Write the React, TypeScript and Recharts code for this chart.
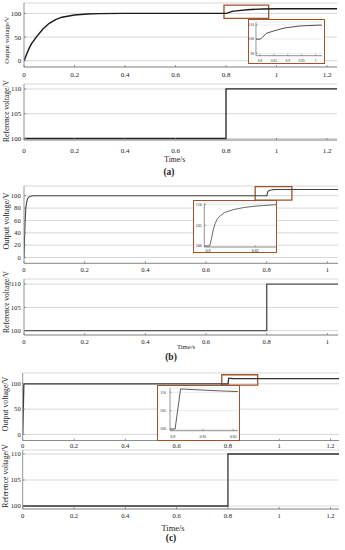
import React from 'react'
import { CartesianGrid, Line, LineChart, ReferenceArea, XAxis, YAxis } from 'recharts'

const SERIF = '"Liberation Serif", "Times New Roman", serif'
const BROWN = '#a0522d'
const INK = '#222'
const AXIS = '#7a7a7a'
const GRID = '#cdcdcd'

// (a) output voltage, slow first-order rise then slow step to 110
const timeA = [0, 0.01, 0.02, 0.03, 0.05, 0.075, 0.1, 0.125, 0.15, 0.2, 0.25, 0.3, 0.4, 0.8, 0.805, 0.824, 0.85, 0.884, 0.9, 0.944, 1.0, 1.05, 1.1, 1.24]
const voltA = [0, 13, 26, 36, 51, 67, 79, 87, 92, 96.5, 98.8, 99.6, 100, 100, 100.6, 104.2, 105.8, 107.7, 108.2, 109.3, 109.8, 110, 110, 110]

// (b) output voltage, fast rise
const timeB = [0, 0.002, 0.004, 0.006, 0.009, 0.012, 0.016, 0.02, 0.025, 0.032, 0.8, 0.8007, 0.8015, 0.8022, 0.803, 0.804, 0.805, 0.807, 0.8107, 0.815, 0.8192, 0.8235, 0.8287, 0.9, 1.035]
const voltB = [0, 35, 62, 80, 90, 95.5, 97.8, 98.9, 99.6, 100, 100, 100, 101.8, 103.9, 105.4, 106.6, 107.2, 108.1, 108.8, 109.3, 109.6, 109.8, 110, 110, 110]

// (c) output voltage, near-instant rise with small overshoot at the step
const timeC = [0, 0.0045, 0.8, 0.8008, 0.8026, 0.805, 0.81, 0.815, 0.8215, 0.85, 1.233]
const voltC = [0, 100, 100, 100, 110.9, 110.8, 110.6, 110.4, 110.2, 110.1, 110]

// reference voltage step
const refTimeA = [0, 0.8, 0.8, 1.24]
const refTimeB = [0, 0.8, 0.8, 1.035]
const refTimeC = [0, 0.8, 0.8, 1.233]
const refVolt = [100, 100, 110, 110]

const ticksX12 = [0, 0.2, 0.4, 0.6, 0.8, 1, 1.2]
const ticksX10 = [0, 0.2, 0.4, 0.6, 0.8, 1]
const ticksOut50 = [0, 50, 100]
const ticksOut20 = [0, 20, 40, 60, 80, 100]
const ticksRef = [100, 105, 110]
const insetAX = [0.8, 0.85, 0.9, 0.95, 1]
const insetAY = [90, 100, 110]
const insetBX = [0.8, 0.82]
const insetCX = [0.8, 0.81, 0.82]
const insetY = [100, 105, 110]

type Row = { t: number; v: number }
const rows = (ts: number[], vs: number[]): Row[] => ts.map((t, i) => ({ t, v: vs[i] }))

const dataA = rows(timeA, voltA)
const dataB = rows(timeB, voltB)
const dataC = rows(timeC, voltC)
const refA = rows(refTimeA, refVolt)
const refB = rows(refTimeB, refVolt)
const refC = rows(refTimeC, refVolt)

type Box = { left: number; right: number; top: number; bottom: number }

interface PlotProps {
  data: Row[]
  box: Box
  xDomain: [number, number]
  yDomain: [number, number]
  xTicks: number[]
  yTicks: number[]
  font: number
  xGap: number
  yGap: number
  width?: number
  color?: string
  zoom?: { x1: number; x2: number; y1: number; y2: number }
  gridColor?: string
  tickLen?: number
}

const PAD = 4
const AXIS_H = 16

function Plot(p: PlotProps) {
  const { box } = p
  const W = box.right + 4
  const H = box.bottom - box.top + PAD + AXIS_H
  const axisY = box.bottom - box.top + PAD
  const tl = p.tickLen ?? 2
  return (
    <div style={{ position: 'absolute', left: 0, top: box.top - PAD }}>
      <LineChart width={W} height={H} data={p.data} margin={{ top: PAD, right: 4, bottom: 0, left: 0 }}>
        <CartesianGrid vertical={false} stroke={p.gridColor ?? GRID} strokeWidth={0.8} />
        <XAxis
          dataKey="t"
          type="number"
          domain={p.xDomain}
          ticks={p.xTicks}
          interval={0}
          allowDataOverflow
          height={AXIS_H}
          stroke={AXIS}
          strokeWidth={0.8}
          tickLine={false}
          tick={(tp: any) => (
            <g key={tp.index}>
              <line x1={tp.x} x2={tp.x} y1={axisY} y2={axisY - tl} stroke={AXIS} strokeWidth={0.8} />
              <text x={tp.x} y={axisY + p.xGap + p.font * 0.35} textAnchor="middle" fontSize={p.font} fontFamily={SERIF} fill={INK}>
                {String(tp.payload.value)}
              </text>
            </g>
          )}
        />
        <YAxis
          type="number"
          domain={p.yDomain}
          ticks={p.yTicks}
          interval={0}
          allowDataOverflow
          width={box.left}
          stroke={AXIS}
          strokeWidth={0.8}
          tickLine={false}
          tick={(tp: any) => (
            <g key={tp.index}>
              <line x1={box.left} x2={box.left + tl} y1={tp.y} y2={tp.y} stroke={AXIS} strokeWidth={0.8} />
              <text x={box.left - p.yGap} y={tp.y + p.font * 0.35} textAnchor="end" fontSize={p.font} fontFamily={SERIF} fill={INK}>
                {String(tp.payload.value)}
              </text>
            </g>
          )}
        />
        {p.zoom && (
          <ReferenceArea
            x1={p.zoom.x1}
            x2={p.zoom.x2}
            y1={p.zoom.y1}
            y2={p.zoom.y2}
            fill="none"
            fillOpacity={0}
            stroke={BROWN}
            strokeWidth={1.3}
            ifOverflow="visible"
          />
        )}
        <Line
          dataKey="v"
          type="linear"
          stroke={p.color ?? INK}
          strokeWidth={p.width ?? 1.2}
          dot={false}
          isAnimationActive={false}
        />
      </LineChart>
    </div>
  )
}

function Frame({ box }: { box: Box }) {
  return (
    <div
      style={{
        position: 'absolute',
        left: box.left,
        top: box.top,
        width: box.right - box.left,
        height: box.bottom - box.top,
        border: `1.3px solid ${BROWN}`,
        background: '#fff',
        boxSizing: 'border-box',
      }}
    />
  )
}

function VLabel({ x, y, text, fs }: { x: number; y: number; text: string; fs: number }) {
  return (
    <div
      style={{
        position: 'absolute',
        left: x,
        top: y,
        transform: 'translate(-50%, -50%) rotate(-90deg)',
        fontFamily: SERIF,
        fontSize: fs,
        lineHeight: 1,
        whiteSpace: 'nowrap',
        color: INK,
      }}
    >
      {text}
    </div>
  )
}

function Caption({ x, y, text, fs, bold }: { x: number; y: number; text: string; fs: number; bold?: boolean }) {
  return (
    <div
      style={{
        position: 'absolute',
        left: x,
        top: y,
        transform: 'translate(-50%, -50%)',
        fontFamily: SERIF,
        fontSize: fs,
        fontWeight: bold ? 700 : 400,
        lineHeight: 1,
        whiteSpace: 'nowrap',
        color: INK,
      }}
    >
      {text}
    </div>
  )
}

export default function App() {
  return (
    <div style={{ position: 'absolute', left: 0, top: 0, width: 345, height: 550, background: '#fff', overflow: 'hidden' }}>
      {/* (a) */}
      <Plot
        data={dataA}
        box={{ left: 24, right: 337, top: 3, bottom: 67 }}
        xDomain={[0, 1.2396]}
        yDomain={[-13.3, 122]}
        xTicks={ticksX12}
        yTicks={ticksOut50}
        font={7}
        xGap={7.3}
        yGap={2.7}
        width={1.4}
        color="#1a1a1a"
        zoom={{ x1: 0.792, x2: 0.969, y1: 89.5, y2: 117.5 }}
      />
      <Plot
        data={refA}
        box={{ left: 24, right: 337, top: 84, bottom: 140 }}
        xDomain={[0, 1.2396]}
        yDomain={[99.7, 111]}
        xTicks={ticksX12}
        yTicks={ticksRef}
        font={7}
        xGap={10.5}
        yGap={2.7}
        width={1.3}
      />
      <Frame box={{ left: 247.5, top: 19, right: 325, bottom: 64 }} />
      <Plot
        data={dataA}
        box={{ left: 256, right: 322, top: 22, bottom: 55.7 }}
        xDomain={[0.7856, 1.0226]}
        yDomain={[88.3, 112.1]}
        xTicks={insetAX}
        yTicks={insetAY}
        font={3.6}
        xGap={5.3}
        yGap={2}
        width={0.8}
        gridColor="#e6e6e6"
        tickLen={1.5}
      />
      <VLabel x={7} y={40} text="Output voltage/V" fs={6.8} />
      <VLabel x={7} y={111} text="Reference voltage/V" fs={7.5} />
      <Caption x={174.7} y={160} text="Time/s" fs={7.6} />
      <Caption x={169} y={172.7} text="(a)" fs={9.5} bold />

      {/* (b) */}
      <Plot
        data={dataB}
        box={{ left: 24, right: 338, top: 186, bottom: 263.3 }}
        xDomain={[0, 1.035]}
        yDomain={[-9.3, 115.7]}
        xTicks={ticksX10}
        yTicks={ticksOut20}
        font={6.6}
        xGap={6}
        yGap={3.3}
        width={1.1}
        color="#444"
        zoom={{ x1: 0.762, x2: 0.883, y1: 93, y2: 114.6 }}
      />
      <Plot
        data={refB}
        box={{ left: 24, right: 338, top: 279, bottom: 335 }}
        xDomain={[0, 1.035]}
        yDomain={[99.07, 111.1]}
        xTicks={ticksX10}
        yTicks={ticksRef}
        font={6.6}
        xGap={6.5}
        yGap={3.3}
        width={1.4}
        color="#555"
      />
      <Frame box={{ left: 193.3, top: 200, right: 277.3, bottom: 253.3 }} />
      <Plot
        data={dataB}
        box={{ left: 204.3, right: 276, top: 203, bottom: 247 }}
        xDomain={[0.79844, 0.8288]}
        yDomain={[99.76, 110.41]}
        xTicks={insetBX}
        yTicks={insetY}
        font={4}
        xGap={3.3}
        yGap={2.6}
        width={0.9}
        color="#555"
        gridColor="#e6e6e6"
        tickLen={1.5}
      />
      <VLabel x={6.5} y={221} text="Output voltage/V" fs={8.2} />
      <VLabel x={6.5} y={302} text="Reference voltage/V" fs={7.5} />
      <Caption x={186} y={346.7} text="Time/s" fs={6.6} />
      <Caption x={171} y={357.7} text="(b)" fs={9.5} bold />

      {/* (c) */}
      <Plot
        data={dataC}
        box={{ left: 22.7, right: 339, top: 372.5, bottom: 440 }}
        xDomain={[0, 1.233]}
        yDomain={[-12, 121.3]}
        xTicks={ticksX12}
        yTicks={ticksOut50}
        font={6.6}
        xGap={5}
        yGap={2}
        width={1.3}
        color="#333"
        zoom={{ x1: 0.776, x2: 0.916, y1: 97.2, y2: 117.8 }}
      />
      <Plot
        data={refC}
        box={{ left: 22.7, right: 339, top: 450, bottom: 509 }}
        xDomain={[0, 1.233]}
        yDomain={[99.42, 110.77]}
        xTicks={ticksX12}
        yTicks={ticksRef}
        font={6.6}
        xGap={7}
        yGap={2}
        width={1.3}
        color="#333"
      />
      <Frame box={{ left: 157.3, top: 384.7, right: 240, bottom: 441 }} />
      <Plot
        data={dataC}
        box={{ left: 170, right: 238, top: 388, bottom: 430.7 }}
        xDomain={[0.79911, 0.82155]}
        yDomain={[99.54, 111.17]}
        xTicks={insetCX}
        yTicks={insetY}
        font={4}
        xGap={6}
        yGap={4}
        width={0.8}
        color="#333"
        gridColor="#e6e6e6"
        tickLen={1.5}
      />
      <VLabel x={6} y={404} text="Output voltage/V" fs={7.8} />
      <VLabel x={6} y={476} text="Reference voltage/V" fs={7.7} />
      <Caption x={173} y={528.7} text="Time/s" fs={8.4} />
      <Caption x={171} y={539.3} text="(c)" fs={9.5} bold />
    </div>
  )
}
